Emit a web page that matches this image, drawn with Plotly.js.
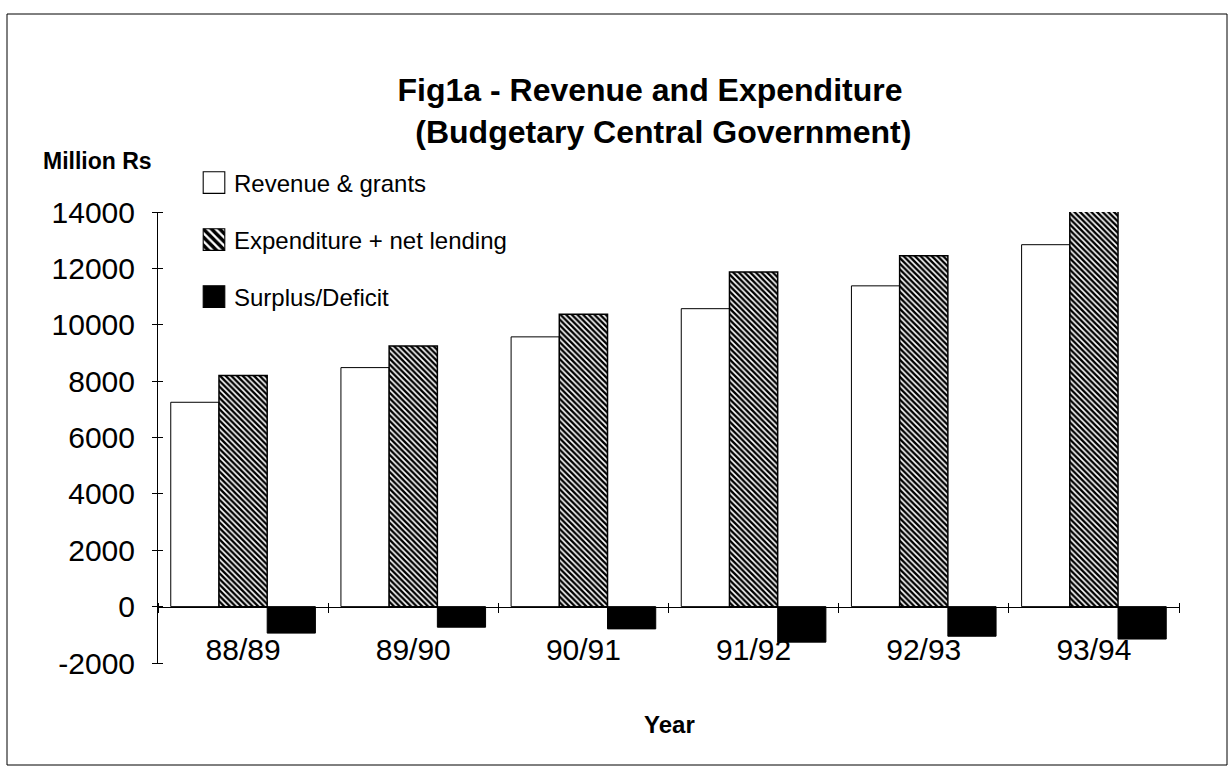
<!DOCTYPE html>
<html>
<head>
<meta charset="utf-8">
<script src="https://cdn.plot.ly/plotly-3.0.1.min.js"></script>
<style>
  html, body { margin: 0; padding: 0; background: #fff; }
  #chart { width: 1232px; height: 779px; }
</style>
</head>
<body>
<div id="chart"></div>
<script>
const years = ["88/89", "89/90", "90/91", "91/92", "92/93", "93/94"];
const revenueGrants = [7250, 8480, 9570, 10570, 11380, 12840];
const expenditureNetLending = [8200, 9250, 10370, 11870, 12450, 14030];
const surplusDeficit = [-940, -730, -790, -1260, -1050, -1150];
const yTickVals = [-2000, 0, 2000, 4000, 6000, 8000, 10000, 12000, 14000];
const yTickText = ["-2000", "0", "2000", "4000", "6000", "8000", "10000", "12000", "14000"];

const FONT = "Liberation Sans, Arial, Helvetica, sans-serif";

const traces = [
  {
    type: "bar", name: "Revenue & grants", x: years, y: revenueGrants,
    marker: { color: "#ffffff", line: { color: "#000", width: 1 } },
    legend: "legend"
  },
  {
    type: "bar", name: "Expenditure + net lending", x: years, y: expenditureNetLending,
    marker: { color: "#ffffff", line: { color: "#000", width: 1.5 },
      pattern: { shape: "\\", size: 4, solidity: 0.6, fgcolor: "#000", bgcolor: "#ffffff" } },
    legend: "legend2"
  },
  {
    type: "bar", name: "Surplus/Deficit", x: years, y: surplusDeficit,
    marker: { color: "#000000", line: { color: "#000", width: 1 } },
    legend: "legend3"
  },
  // invisible helper trace so the tick-only axes (crossing tick marks) are drawn
  {
    type: "scatter", mode: "markers", x: years, y: revenueGrants,
    marker: { opacity: 0, size: 1 }, xaxis: "x2", yaxis: "y2",
    showlegend: false, hoverinfo: "skip"
  }
];

const L = 158, R = 1179, T = 212, B = 663;
const W = 1232, H = 779;
const px2x = p => (p - L) / (R - L);
const py2y = p => (B - p) / (B - T);
const zeroPos = 2000 / 16000;
const TICK = 5; // half length of the crossing tick marks, px

const legendBase = {
  xanchor: "left", yanchor: "middle", bgcolor: "rgba(0,0,0,0)",
  font: { family: FONT, size: 24, color: "#000" }, itemwidth: 30
};

const layout = {
  width: W, height: H,
  paper_bgcolor: "#fff", plot_bgcolor: "#fff",
  margin: { l: L, r: W - R, t: T, b: H - B },
  barmode: "group", bargap: 0.15, bargroupgap: 0,
  font: { family: FONT, color: "#000" },
  showlegend: true,
  title: {
    text: "<b>Fig1a - Revenue and Expenditure<br>\u00a0\u00a0\u00a0(Budgetary Central Government)</b>",
    x: 650 / W, xanchor: "center", y: 1 - 101 / H, yanchor: "middle",
    font: { family: FONT, size: 32, color: "#000" }
  },
  xaxis: {
    type: "category", range: [-0.5, 5.5], anchor: "free", position: zeroPos,
    showline: true, linecolor: "#000", linewidth: 1,
    ticks: "outside", ticklen: TICK, tickcolor: "#000", tickwidth: 1,
    tickson: "boundaries", showgrid: false, zeroline: false,
    tickfont: { family: FONT, size: 30, color: "#000" },
    ticklabelstandoff: 16
  },
  xaxis2: {
    type: "category", range: [-0.5, 5.5], overlaying: "x", anchor: "free",
    position: zeroPos + TICK / (B - T), side: "bottom",
    showline: false, ticks: "outside", ticklen: 2 * TICK, tickcolor: "#000", tickwidth: 1,
    tickson: "boundaries", showticklabels: false, showgrid: false, zeroline: false
  },
  yaxis: {
    range: [-2000, 14000], tickvals: yTickVals, ticktext: yTickText,
    showline: true, linecolor: "#000", linewidth: 1,
    ticks: "outside", ticklen: TICK, tickcolor: "#000",
    showgrid: false, zeroline: false,
    tickfont: { family: FONT, size: 30, color: "#000" },
    ticklabelstandoff: 11
  },
  yaxis2: {
    range: [-2000, 14000], tickvals: yTickVals, overlaying: "y", anchor: "free",
    position: TICK / (R - L), side: "left",
    showline: false, ticks: "outside", ticklen: 2 * TICK, tickcolor: "#000",
    showticklabels: false, showgrid: false, zeroline: false
  },
  legend: Object.assign({}, legendBase, { x: px2x(194), y: py2y(183) }),
  legend2: Object.assign({}, legendBase, { x: px2x(194), y: py2y(240) }),
  legend3: Object.assign({}, legendBase, { x: px2x(194), y: py2y(297) }),
  annotations: [
    { text: "<b>Million Rs</b>", xref: "paper", yref: "paper",
      x: px2x(97), y: py2y(161), xanchor: "center", yanchor: "middle",
      showarrow: false, font: { family: FONT, size: 23, color: "#000" } },
    { text: "<b>Year</b>", xref: "paper", yref: "paper",
      x: px2x(669), y: py2y(724), xanchor: "center", yanchor: "middle",
      showarrow: false, font: { family: FONT, size: 24, color: "#000" } }
  ],
  shapes: [
    { type: "rect", xref: "paper", yref: "paper",
      x0: px2x(7), x1: px2x(1227), y0: py2y(765), y1: py2y(14),
      line: { color: "#000", width: 1 }, fillcolor: "rgba(0,0,0,0)" }
  ]
};

Plotly.newPlot("chart", traces, layout, { displayModeBar: false, staticPlot: true }).then(gd => {
  // enlarge the legend swatches to match the larger boxes of the original
  gd.querySelectorAll(".legendpoints path").forEach(p => {
    const t = p.getAttribute("transform") || "";
    p.setAttribute("transform", t + " scale(1.8)");
    p.style.strokeWidth = "0.6px";
  });
});
</script>
</body>
</html>
